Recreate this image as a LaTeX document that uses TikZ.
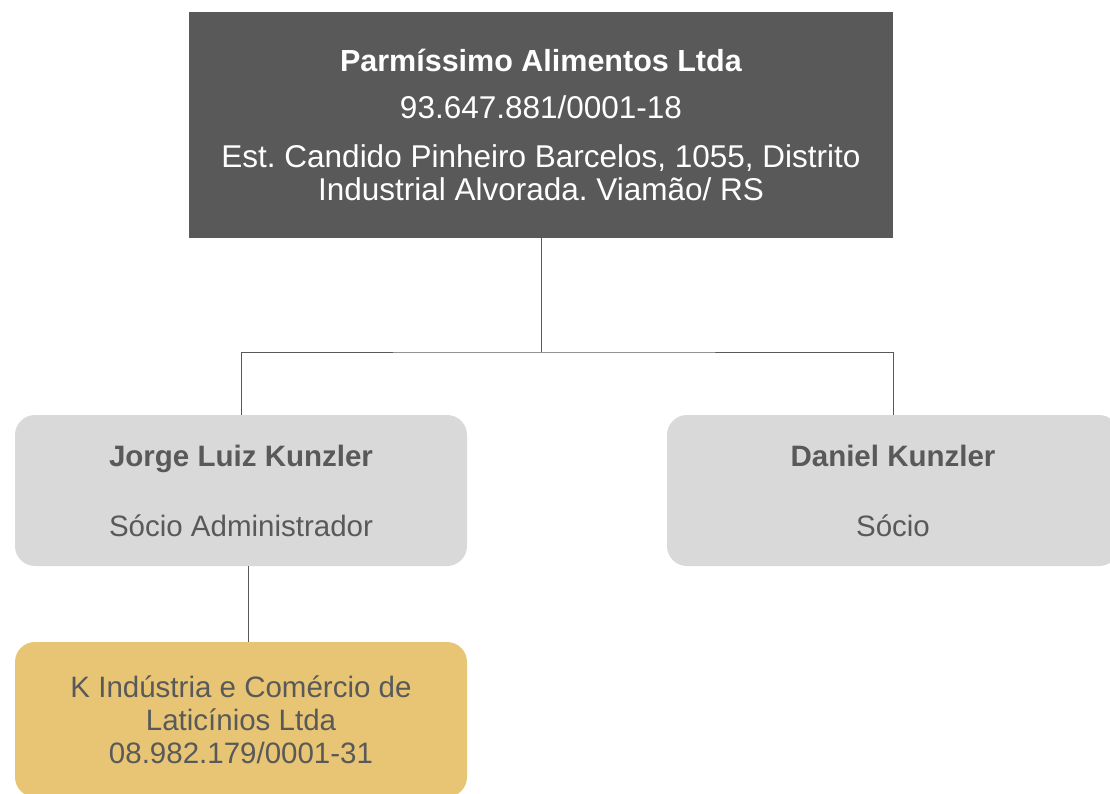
\documentclass[tikz,border=0pt]{standalone}
\usepackage{fontspec}
\setmainfont{Liberation Sans}
\frenchspacing

\definecolor{boxdark}{HTML}{595959}
\definecolor{boxlight}{HTML}{D9D9D9}
\definecolor{boxgold}{HTML}{E7C574}
\definecolor{txtgray}{HTML}{595959}

\tikzset{
  orgtext/.style={font=\fontsize{29.5}{33}\selectfont, align=center, inner sep=0pt},
  headbox/.style={orgtext, font=\fontsize{31.5}{33}\selectfont, fill=boxdark, text=white,
    minimum width=704pt, minimum height=226pt},
  ownerbox/.style={orgtext, fill=boxlight, text=txtgray, rounded corners=20pt,
    minimum width=452pt, minimum height=151pt},
  firmbox/.style={ownerbox, fill=boxgold, minimum height=155pt},
  link/.style={draw=boxdark, line width=1pt}
}

\begin{document}
\begin{tikzpicture}[x=1pt, y=-1pt]

% page frame (pixel grid, y downwards)
\useasboundingbox (0,0) rectangle (1110,794);

%%%%%%%%%%%%%%%%%%%%%%%%%%%%%%%%%%%%%%%%%%%%%%%%%%%%%%%%%%%%%%%%
% Company
%%%%%%%%%%%%%%%%%%%%%%%%%%%%%%%%%%%%%%%%%%%%%%%%%%%%%%%%%%%%%%%%
\node [headbox] (parm) at (541,125)
  {{\fontsize{30.5}{33}\selectfont\textbf{Parmíssimo Alimentos Ltda}}\\[14pt]
   93.647.881/0001-18\\[16pt]
   Est. Candido Pinheiro Barcelos, 1055, Distrito\\
   Industrial Alvorada. Viamão/ RS};

%%%%%%%%%%%%%%%%%%%%%%%%%%%%%%%%%%%%%%%%%%%%%%%%%%%%%%%%%%%%%%%%
% Partners
%%%%%%%%%%%%%%%%%%%%%%%%%%%%%%%%%%%%%%%%%%%%%%%%%%%%%%%%%%%%%%%%
\node [ownerbox] (jorge) at (241,490.5)
  {\textbf{Jorge Luiz Kunzler}\\[37pt] Sócio Administrador};

\node [ownerbox] (daniel) at (893,490.5)
  {\textbf{Daniel Kunzler}\\[37pt] Sócio};

% holding of the first partner
\node [firmbox] (kfirm) at (241,719.5)
  {K Indústria e Comércio de\\ Laticínios Ltda\\ 08.982.179/0001-31};

%%%%%%%%%%%%%%%%%%%%%%%%%%%%%%%%%%%%%%%%%%%%%%%%%%%%%%%%%%%%%%%%
% Edges
%%%%%%%%%%%%%%%%%%%%%%%%%%%%%%%%%%%%%%%%%%%%%%%%%%%%%%%%%%%%%%%%
\coordinate (bus) at (541,352);

\draw [link] (parm.south) to (bus);
\draw [link] (jorge.north) |- (bus) -| (daniel.north);
\draw [link] ([xshift=7pt]jorge.south) to ([xshift=7pt]kfirm.north);

\end{tikzpicture}
\end{document}
